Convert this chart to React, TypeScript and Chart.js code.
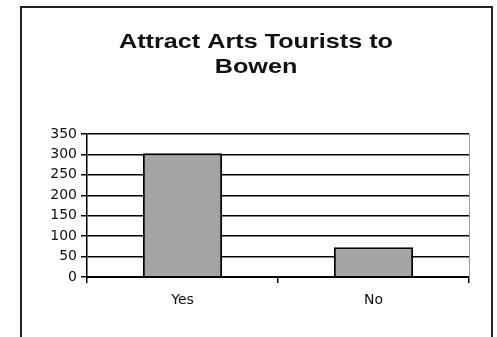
import React, { useEffect, useRef } from "react";
import { Chart, registerables } from "chart.js";

Chart.register(...registerables);

const categories = ["Yes", "No"];
const values = [303, 73];
const yTicks = [0, 50, 100, 150, 200, 250, 300, 350];
const titleLines = ["Attract Arts Tourists to", "Bowen"];

const W = 497;
const H = 337;

const framePlugin = {
  id: "frame",
  afterDraw(chart: any) {
    const ctx = chart.ctx;
    const a = chart.chartArea;
    ctx.save();
    // outer frame
    ctx.strokeStyle = "#222";
    ctx.lineWidth = 2;
    ctx.beginPath();
    ctx.moveTo(21, H + 2);
    ctx.lineTo(21, 7);
    ctx.lineTo(492, 7);
    ctx.lineTo(492, H + 2);
    ctx.stroke();
    // right light line of plot area
    ctx.strokeStyle = "#9a9a9a";
    ctx.lineWidth = 1;
    ctx.beginPath();
    ctx.moveTo(a.right + 0.5, a.top);
    ctx.lineTo(a.right + 0.5, a.bottom);
    ctx.stroke();
    // title (slightly widened, as in the scanned original)
    ctx.fillStyle = "#111";
    ctx.font = "bold 21px 'Liberation Sans', Arial, sans-serif";
    ctx.textAlign = "center";
    ctx.textBaseline = "alphabetic";
    ctx.translate(256, 0);
    ctx.scale(1.2, 1);
    ctx.fillText(titleLines[0], 0, 48);
    ctx.fillText(titleLines[1], 0, 73);
    ctx.restore();
  },
};

export default function App() {
  const ref = useRef<HTMLCanvasElement | null>(null);
  useEffect(() => {
    if (!ref.current) return;
    const chart = new Chart(ref.current, {
      type: "bar",
      data: {
        labels: categories,
        datasets: [
          {
            data: values,
            backgroundColor: "#a4a4a4",
            borderColor: "#000",
            borderWidth: 2,
            categoryPercentage: 1,
            barPercentage: 0.415,
          },
        ],
      },
      options: {
        responsive: false,
        animation: false,
        devicePixelRatio: 1,
        layout: { padding: { top: 134, right: 28, bottom: 0, left: 0 } },
        plugins: {
          legend: { display: false },
          title: { display: false },
          tooltip: { enabled: false },
        },
        scales: {
          x: {
            offset: true,
            grid: {
              display: true,
              drawOnChartArea: false,
              drawTicks: true,
              tickLength: 6,
              color: "#000",
              lineWidth: 1.5,
              offset: true,
            },
            border: { display: true, color: "#000", width: 2 },
            ticks: {
              color: "#111",
              font: { family: "'DejaVu Sans'", size: 14 },
              padding: 9,
            },
            afterFit: (s: any) => {
              s.height = H - 277;
            },
          },
          y: {
            min: 0,
            max: 350,
            afterBuildTicks: (s: any) => {
              s.ticks = yTicks.map((v) => ({ value: v }));
            },
            grid: { color: "#000", lineWidth: 1.5, tickLength: 6 },
            border: { display: true, color: "#000", width: 1.5 },
            ticks: {
              color: "#111",
              font: { family: "'DejaVu Sans'", size: 14 },
              padding: 4,
            },
            afterFit: (s: any) => {
              s.width = 87;
            },
          },
        },
      },
      plugins: [framePlugin],
    });
    return () => chart.destroy();
  }, []);
  return (
    <div style={{ position: "absolute", left: 0, top: 0, width: W, height: H, background: "#fff" }}>
      <canvas ref={ref} width={W} height={H} style={{ display: "block" }} />
    </div>
  );
}
